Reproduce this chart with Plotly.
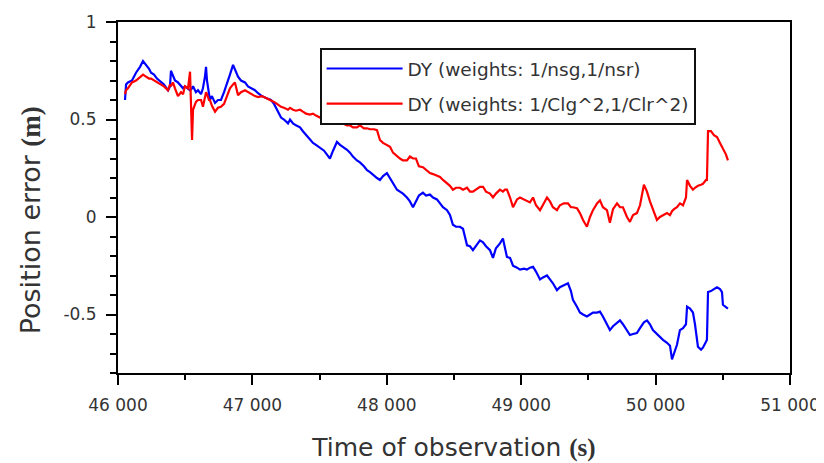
import plotly.graph_objects as go

# Time of observation (s)
time_s = [46052, 46060, 46074, 46104, 46134, 46164, 46186, 46208, 46231, 46246,
          46268, 46290, 46320, 46342, 46372, 46387, 46394, 46409, 46424, 46446,
          46469, 46484, 46498, 46521, 46536, 46551, 46558, 46580, 46595, 46618,
          46632, 46647, 46655, 46662, 46677, 46684, 46699, 46722, 46744, 46766,
          46789, 46811, 46833, 46856, 46870, 46893, 46915, 46945, 46967, 46990,
          47019, 47042, 47071, 47101, 47138, 47161, 47183, 47213, 47235, 47265,
          47280, 47302, 47324, 47354, 47376, 47399, 47428, 47451, 47473, 47503,
          47533, 47555, 47577, 47600, 47629, 47652, 47674, 47704, 47726, 47748,
          47778, 47800, 47830, 47853, 47875, 47905, 47927, 47949, 47972, 48001,
          48024, 48046, 48076, 48098, 48120, 48150, 48172, 48195, 48217, 48239,
          48269, 48292, 48321, 48344, 48373, 48396, 48418, 48448, 48470, 48492,
          48515, 48544, 48567, 48597, 48619, 48641, 48664, 48693, 48716, 48738,
          48768, 48790, 48812, 48842, 48864, 48879, 48894, 48917, 48939, 48969,
          48991, 49021, 49043, 49065, 49088, 49110, 49140, 49162, 49192, 49214,
          49236, 49266, 49288, 49318, 49348, 49370, 49385, 49415, 49437, 49460,
          49489, 49512, 49534, 49564, 49586, 49608, 49638, 49660, 49683, 49713,
          49735, 49757, 49787, 49809, 49832, 49861, 49884, 49913, 49936, 49958,
          49980, 50010, 50032, 50055, 50085, 50107, 50122, 50137, 50159, 50181,
          50204, 50226, 50234, 50256, 50278, 50293, 50315, 50338, 50352, 50375,
          50382, 50390, 50412, 50434, 50457, 50479, 50494, 50501, 50524, 50538]

# DY (weights: 1/nsg,1/nsr)
dy_nsg = [0.60, 0.68, 0.69, 0.70, 0.74, 0.77, 0.80, 0.78, 0.76, 0.74,
          0.73, 0.71, 0.69, 0.68, 0.65, 0.67, 0.75, 0.72, 0.70, 0.69,
          0.67, 0.66, 0.67, 0.66, 0.65, 0.66, 0.67, 0.64, 0.65, 0.63,
          0.66, 0.72, 0.77, 0.70, 0.64, 0.60, 0.62, 0.585, 0.60, 0.60,
          0.64, 0.68, 0.73, 0.78, 0.76, 0.72, 0.70, 0.69, 0.67, 0.66,
          0.65, 0.635, 0.62, 0.61, 0.60, 0.58, 0.55, 0.51, 0.50, 0.48,
          0.50, 0.48, 0.47, 0.46, 0.44, 0.42, 0.395, 0.38, 0.37, 0.355,
          0.34, 0.32, 0.30, 0.34, 0.385, 0.37, 0.36, 0.345, 0.33, 0.31,
          0.29, 0.28, 0.26, 0.24, 0.23, 0.21, 0.20, 0.19, 0.21, 0.225,
          0.20, 0.17, 0.14, 0.13, 0.12, 0.10, 0.08, 0.05, 0.08, 0.11,
          0.125, 0.11, 0.115, 0.10, 0.09, 0.07, 0.05, 0.035, 0.01, -0.04,
          -0.05, -0.05, -0.06, -0.145, -0.15, -0.17, -0.15, -0.12, -0.13, -0.15,
          -0.17, -0.21, -0.16, -0.135, -0.11, -0.15, -0.205, -0.21, -0.25, -0.26,
          -0.27, -0.265, -0.27, -0.26, -0.255, -0.28, -0.32, -0.31, -0.30, -0.32,
          -0.34, -0.375, -0.36, -0.35, -0.34, -0.38, -0.425, -0.46, -0.49, -0.50,
          -0.51, -0.50, -0.49, -0.49, -0.485, -0.51, -0.55, -0.58, -0.56, -0.54,
          -0.53, -0.55, -0.58, -0.605, -0.60, -0.595, -0.57, -0.54, -0.53, -0.55,
          -0.58, -0.60, -0.62, -0.63, -0.645, -0.66, -0.73, -0.70, -0.655, -0.58,
          -0.57, -0.55, -0.46, -0.47, -0.49, -0.55, -0.665, -0.68, -0.67, -0.64,
          -0.63, -0.385, -0.38, -0.37, -0.36, -0.37, -0.385, -0.45, -0.465, -0.47]

# DY (weights: 1/Clg^2,1/Clr^2)
dy_clg = [0.63, 0.65, 0.66, 0.69, 0.70, 0.72, 0.73, 0.72, 0.71, 0.71,
          0.70, 0.69, 0.68, 0.67, 0.65, 0.68, 0.67, 0.69, 0.66, 0.62,
          0.64, 0.63, 0.67, 0.66, 0.745, 0.395, 0.55, 0.59, 0.60, 0.60,
          0.565, 0.62, 0.64, 0.63, 0.60, 0.60, 0.57, 0.54, 0.56, 0.565,
          0.58, 0.62, 0.66, 0.68, 0.69, 0.625, 0.64, 0.65, 0.64, 0.63,
          0.62, 0.615, 0.62, 0.61, 0.60, 0.59, 0.58, 0.565, 0.56, 0.55,
          0.56, 0.55, 0.545, 0.55, 0.54, 0.53, 0.525, 0.53, 0.52, 0.51,
          0.51, 0.50, 0.50, 0.49, 0.49, 0.48, 0.48, 0.47, 0.47, 0.46,
          0.46, 0.47, 0.455, 0.455, 0.45, 0.45, 0.445, 0.395, 0.38, 0.37,
          0.36, 0.33, 0.31, 0.30, 0.29, 0.29, 0.31, 0.30, 0.30, 0.26,
          0.255, 0.24, 0.225, 0.22, 0.21, 0.205, 0.19, 0.175, 0.16, 0.14,
          0.15, 0.15, 0.14, 0.15, 0.13, 0.13, 0.14, 0.155, 0.155, 0.13,
          0.12, 0.10, 0.12, 0.14, 0.13, 0.14, 0.14, 0.10, 0.05, 0.09,
          0.10, 0.09, 0.08, 0.075, 0.10, 0.06, 0.035, 0.06, 0.10, 0.08,
          0.05, 0.035, 0.06, 0.07, 0.07, 0.05, 0.05, 0.045, 0.02, -0.015,
          -0.05, 0.00, 0.035, 0.07, 0.085, 0.05, 0.035, -0.03, 0.04, 0.07,
          0.05, 0.05, 0.00, -0.025, 0.01, 0.02, 0.06, 0.165, 0.13, 0.08,
          0.035, -0.015, 0.00, 0.01, 0.02, 0.01, 0.03, 0.04, 0.05, 0.07,
          0.06, 0.10, 0.19, 0.16, 0.14, 0.15, 0.16, 0.165, 0.17, 0.19,
          0.19, 0.44, 0.44, 0.42, 0.41, 0.38, 0.36, 0.35, 0.32, 0.29]

x_tick_vals = [46000, 47000, 48000, 49000, 50000, 51000]
x_tick_text = ["46 000", "47 000", "48 000", "49 000", "50 000", "51 000"]
y_tick_vals = [-0.5, 0, 0.5, 1]
y_tick_text = ["-0.5", "0", "0.5", "1"]

series_names = ["DY (weights: 1/nsg,1/nsr)", "DY (weights: 1/Clg^2,1/Clr^2)"]
x_title = 'Time of observation <span style="font-family:Liberation Serif"><b>(s)</b></span>'
y_title = 'Position error <span style="font-family:Liberation Serif"><b>(m)</b></span>'

fig = go.Figure()
fig.add_trace(go.Scatter(x=time_s, y=dy_nsg, mode="lines", name=series_names[0],
                         legendgroup="g1", line=dict(color="#0000ff", width=2.2)))
fig.add_trace(go.Scatter(x=time_s, y=dy_clg, mode="lines", name=series_names[1],
                         legendgroup="g2", line=dict(color="#ff0000", width=2.2)))

FONT = "DejaVu Sans, Liberation Sans, Arial"
axis_font = dict(family=FONT, size=17, color="#333333")
fig.update_layout(
    width=824, height=463,
    margin=dict(l=110, r=42, t=14, b=98),
    plot_bgcolor="white", paper_bgcolor="white",
    font=dict(family=FONT, color="#333333"),
    legend=dict(x=0.30, y=0.926, xanchor="left", yanchor="top",
                bgcolor="white", bordercolor="#111111", borderwidth=2,
                font=dict(family=FONT, size=18.5, color="#333333"),
                itemwidth=76, tracegroupgap=8),
    showlegend=True,
)
fig.update_xaxes(
    range=[46000, 51000], tickvals=x_tick_vals, ticktext=x_tick_text, automargin=False,
    showline=True, linecolor="black", linewidth=2, mirror=True,
    ticks="outside", ticklen=10, tickwidth=1.5, tickcolor="black",
    minor=dict(dtick=500, tick0=46000, ticks="outside", ticklen=5, tickwidth=1.5, tickcolor="black"),
    showgrid=False, zeroline=False, tickfont=axis_font, ticklabelstandoff=6,
    title=dict(text=x_title, font=dict(family=FONT, size=25, color="#333333"), standoff=24),
)
fig.update_yaxes(
    range=[-0.8, 1], tickvals=y_tick_vals, ticktext=y_tick_text, automargin=False,
    showline=True, linecolor="black", linewidth=2, mirror=True,
    ticks="outside", ticklen=10, tickwidth=1.5, tickcolor="black",
    minor=dict(dtick=0.1, tick0=0, ticks="outside", ticklen=6, tickwidth=1.5, tickcolor="black"),
    showgrid=False, zeroline=False, tickfont=axis_font, ticklabelstandoff=6,
)
fig.add_annotation(text=y_title, xref="paper", yref="paper", x=-0.131, y=0.435,
                   xanchor="center", yanchor="middle", textangle=-90, showarrow=False,
                   font=dict(family=FONT, size=27, color="#333333"))

fig.write_html("out.html")
